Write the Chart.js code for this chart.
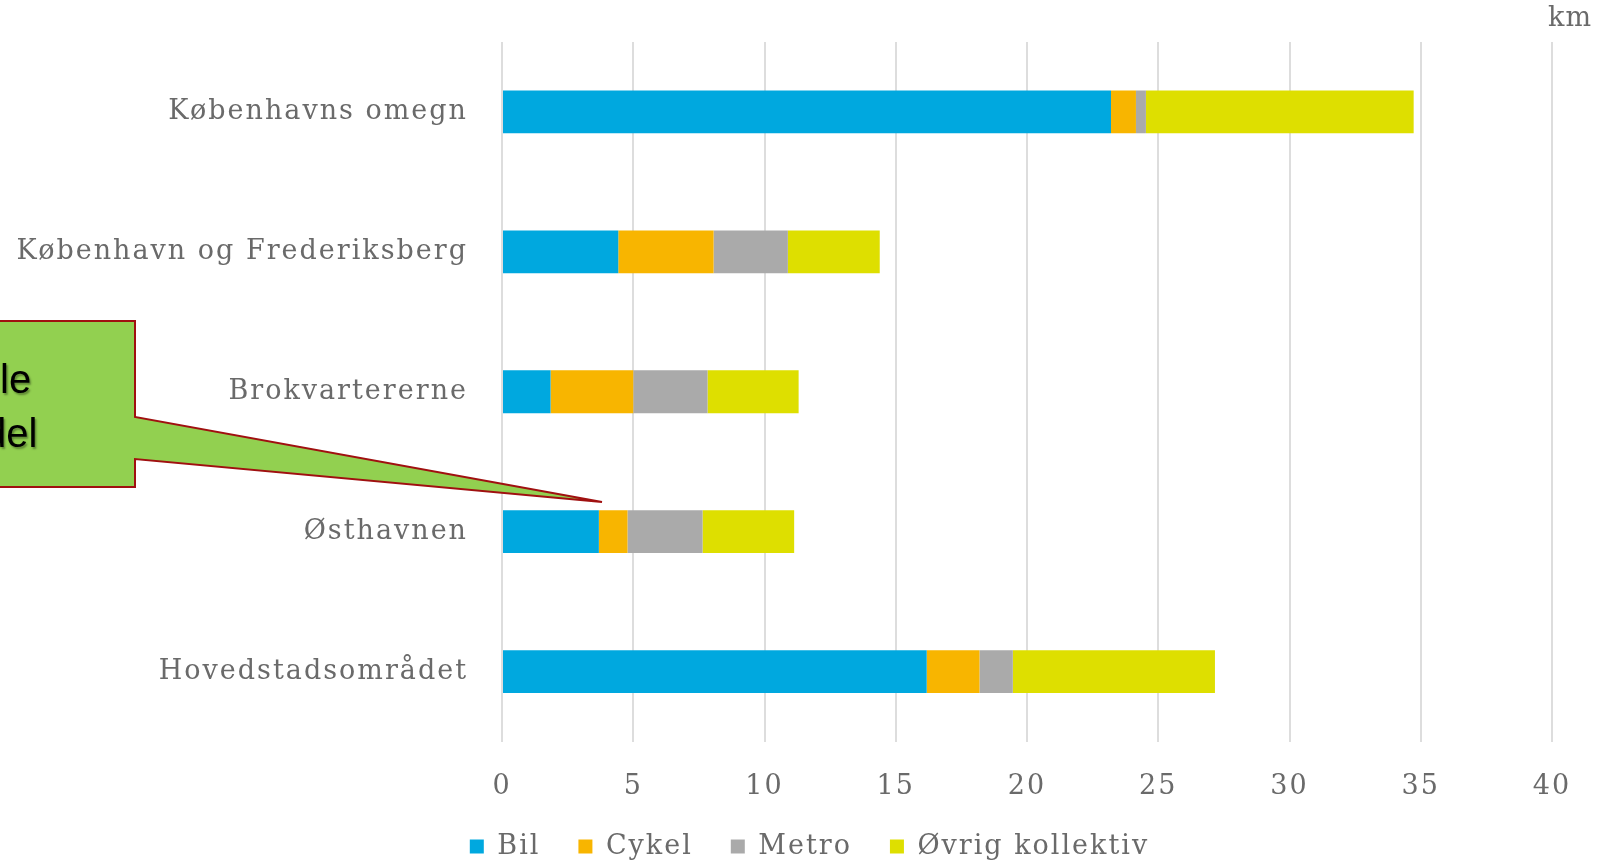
<!DOCTYPE html>
<html>
<head>
<meta charset="utf-8">
<script src="https://cdn.jsdelivr.net/npm/chart.js@4/dist/chart.umd.min.js"></script>
<style>
html,body{margin:0;padding:0;background:#ffffff;}
#wrap{width:1619px;height:863px;position:relative;}
</style>
</head>
<body>
<div id="wrap"><canvas id="c" width="1619" height="863"></canvas></div>
<script>
// ---- data ----
const categories = ["Københavns omegn", "København og Frederiksberg", "Brokvartererne", "Østhavnen", "Hovedstadsområdet"];
const bil    = [23.2, 4.43, 1.85, 3.69, 16.18];
const cykel  = [0.95, 3.63, 3.15, 1.09, 2.01];
const metro  = [0.38, 2.83, 2.83, 2.86, 1.27];
const ovrig  = [10.2, 3.5, 3.47, 3.49, 7.7];
const seriesNames = ["Bil", "Cykel", "Metro", "Øvrig kollektiv"];
const xTickValues = [0, 5, 10, 15, 20, 25, 30, 35, 40];
const unitLabel = "km";
const calloutLines = ["le", "del"];

// ---- styles ----
const seriesColors = ["#00A8DF", "#F8B500", "#AAAAAA", "#DEDF00"];
const fontFamily = '"DejaVu Serif", serif';
const textColor = "#6a6a6a";
const spacing = "2px";

const overlay = {
  id: "overlay",
  beforeLayout(chart) { chart.ctx.letterSpacing = spacing; },
  beforeDraw(chart) { chart.ctx.letterSpacing = spacing; },
  afterDraw(chart) {
    const ctx = chart.ctx;
    ctx.save();
    // unit label
    ctx.letterSpacing = "1px";
    ctx.font = "27px " + fontFamily;
    ctx.fillStyle = textColor;
    ctx.textAlign = "center";
    ctx.textBaseline = "middle";
    ctx.fillText(unitLabel, 1570, 19);
    // callout shape
    ctx.letterSpacing = "0px";
    ctx.beginPath();
    ctx.moveTo(-5, 321);
    ctx.lineTo(135, 321);
    ctx.lineTo(135, 417);
    ctx.lineTo(602, 502);
    ctx.lineTo(135, 459);
    ctx.lineTo(135, 487);
    ctx.lineTo(-5, 487);
    ctx.closePath();
    ctx.fillStyle = "#92D050";
    ctx.fill();
    ctx.lineWidth = 2;
    ctx.strokeStyle = "#A01010";
    ctx.stroke();
    // callout text
    ctx.font = '40px "Liberation Sans", Arial, sans-serif';
    ctx.fillStyle = "#000000";
    ctx.textAlign = "left";
    ctx.textBaseline = "alphabetic";
    ctx.shadowColor = "rgba(0,0,0,0.35)";
    ctx.shadowOffsetX = 1.5;
    ctx.shadowOffsetY = 1.5;
    ctx.shadowBlur = 2;
    ctx.fillText(calloutLines[0], 0, 393);
    ctx.fillText(calloutLines[1], -16, 447);
    ctx.restore();
  }
};

const seriesData = [bil, cykel, metro, ovrig];
const datasets = seriesNames.map((name, i) => ({
  label: name,
  data: seriesData[i],
  backgroundColor: seriesColors[i],
  borderWidth: 0,
  categoryPercentage: 1,
  barPercentage: 0.306
}));

new Chart(document.getElementById("c"), {
  type: "bar",
  data: { labels: categories, datasets },
  options: {
    indexAxis: "y",
    responsive: false,
    animation: false,
    layout: { padding: { top: 42, left: 0, right: 0, bottom: -7 } },
    plugins: {
      legend: {
        position: "bottom",
        labels: {
          boxWidth: 14, boxHeight: 14, padding: 38,
          color: textColor,
          font: { family: fontFamily, size: 27 }
        }
      },
      tooltip: { enabled: false }
    },
    scales: {
      x: {
        stacked: true,
        min: 0, max: 40,
        afterBuildTicks(s) { s.ticks = xTickValues.map(v => ({ value: v })); },
        ticks: { color: textColor, padding: 1, font: { family: fontFamily, size: 27, lineHeight: 0.5 } },
        grid: { color: "#dddddd", lineWidth: 2, drawTicks: true, tickLength: 38, tickColor: "rgba(0,0,0,0)" },
        border: { display: false }
      },
      y: {
        stacked: true,
        grid: { display: true, drawOnChartArea: false, drawTicks: true, tickLength: 34, color: "rgba(0,0,0,0)", tickColor: "rgba(0,0,0,0)" },
        border: { display: false },
        ticks: { color: textColor, padding: 0, font: { family: fontFamily, size: 27 } },
        afterFit(s) { s.width = 502; }
      },
      yr: {
        type: "linear",
        position: "right",
        display: true,
        grid: { display: false, drawTicks: false },
        border: { display: false },
        ticks: { display: false },
        afterFit(s) { s.width = 67; }
      }
    }
  },
  plugins: [overlay]
});
</script>
</body>
</html>
